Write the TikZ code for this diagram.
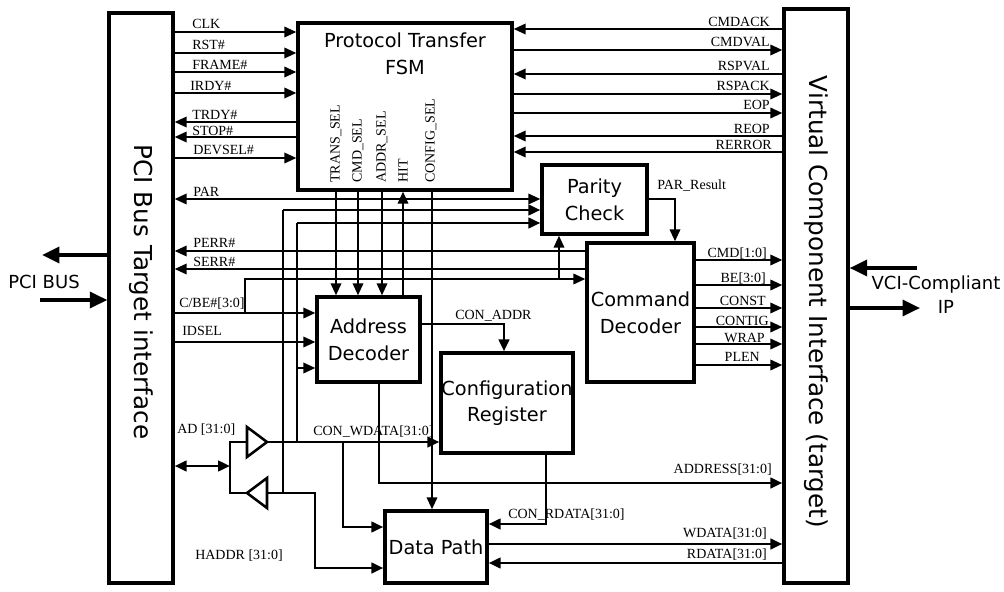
\documentclass[tikz,border=0pt]{standalone}
\usepackage{fontspec}
\setmainfont{Liberation Serif}
\newfontfamily\dejavu{DejaVu Sans}
\usetikzlibrary{arrows.meta,calc}
\begin{document}
\begin{tikzpicture}[x=0.75pt,y=-0.75pt,
 box/.style={draw,line width=2.6pt,inner sep=0pt},
 sig/.style={line width=1.2pt},
 bus/.style={line width=1.9pt},
 heavy/.style={line width=2.6pt,-{Triangle[length=13pt,width=12pt]}},
 big/.style={font=\dejavu\fontsize{14.5pt}{20pt}\selectfont,align=center,inner sep=0pt},
 side/.style={font=\dejavu\fontsize{18.5pt}{22pt}\selectfont,inner sep=0pt},
 io/.style={font=\dejavu\fontsize{13.5pt}{16pt}\selectfont,inner sep=0pt},
 lbl/.style={font=\fontsize{10.5pt}{12pt}\selectfont,inner sep=0pt},
 >={Triangle[length=9pt,width=8pt]}]
\fill[white] (0,0) rectangle (1004,592);
\useasboundingbox (0,0) rectangle (1004,592);

% blocks
\node[box,minimum width=64*0.75pt,minimum height=570*0.75pt] (pci) at (141,298) {};
\node[side,rotate=-90] (pcit) at (141,292) {PCI Bus Target interface};
\node[box,minimum width=64*0.75pt,minimum height=574*0.75pt] (vci) at (816,296) {};
\node[side,rotate=-90] (vcit) at (816,302) {Virtual Component Interface (target)};
\node[box,minimum width=214*0.75pt,minimum height=167*0.75pt] (fsm) at (405,106.5) {};
\node[big] (fsmt) at (405,54) {Protocol Transfer\\FSM};
\node[box,big,minimum width=105*0.75pt,minimum height=69*0.75pt] (parity) at (594.5,199.5) {Parity\\Check};
\node[box,big,minimum width=107*0.75pt,minimum height=139*0.75pt] (cmd) at (640.5,312.5) {Command\\Decoder};
\node[box,big,minimum width=103*0.75pt,minimum height=85*0.75pt] (addr) at (368.5,339.5) {Address\\Decoder};
\node[box,big,minimum width=132*0.75pt,minimum height=100*0.75pt] (cfg) at (507,403) {Configuration\\Register};
\node[box,big,minimum width=102*0.75pt,minimum height=72*0.75pt] (dp) at (436,547) {Data Path};

% outside buses
\coordinate (pcibusout) at (42,255);
\coordinate (pcibusin) at (40,300);
\coordinate (vciin) at (917,268);
\coordinate (vciout) at (920,308);
\draw[heavy] (pci.west |- pcibusout) -- (pcibusout);
\draw[heavy] (pcibusin) -- (pci.west |- pcibusin);
\draw[heavy] (vciin) -- (vci.east |- vciin);
\draw[heavy] (vci.east |- vciout) -- (vciout);
\node[io] (pcibus) at (44,282) {PCI BUS};
\node[io] (vcicomp) at (936,285) {VCI-Compliant};
\node[io] (vciip) at (946,307) {IP};

% PCI side signals to FSM
\draw[sig,->] (pci.east |- 0,32) -- (fsm.west |- 0,32);
\draw[sig,->] (pci.east |- 0,53) -- (fsm.west |- 0,53);
\draw[sig,->] (pci.east |- 0,72) -- (fsm.west |- 0,72);
\draw[sig,->] (pci.east |- 0,93) -- (fsm.west |- 0,93);
\draw[sig,->] (fsm.west |- 0,122) -- (pci.east |- 0,122);
\draw[sig,->] (fsm.west |- 0,137) -- (pci.east |- 0,137);
\draw[sig,->] (pci.east |- 0,158) -- (fsm.west |- 0,158);
\node[lbl,anchor=base west] (lclk) at (192,29) {CLK};
\node[lbl,anchor=base west] (lrst) at (192,50) {RST\#};
\node[lbl,anchor=base west] (lframe) at (192,70) {FRAME\#};
\node[lbl,anchor=base west] (lirdy) at (190,91) {IRDY\#};
\node[lbl,anchor=base west] (ltrdy) at (192,120) {TRDY\#};
\node[lbl,anchor=base west] (lstop) at (192,136) {STOP\#};
\node[lbl,anchor=base west] (ldevsel) at (193,155) {DEVSEL\#};

% VCI side signals to FSM
\draw[sig,->] (vci.west |- 0,29) -- (fsm.east |- 0,29);
\draw[sig,->] (fsm.east |- 0,50) -- (vci.west |- 0,50);
\draw[sig,->] (vci.west |- 0,74) -- (fsm.east |- 0,74);
\draw[sig,->] (fsm.east |- 0,94) -- (vci.west |- 0,94);
\draw[sig,->] (fsm.east |- 0,113) -- (vci.west |- 0,113);
\draw[sig,->] (vci.west |- 0,136) -- (fsm.east |- 0,136);
\draw[sig,->] (vci.west |- 0,152) -- (fsm.east |- 0,152);
\node[lbl,anchor=base east] (lcmdack) at (770,27) {CMDACK};
\node[lbl,anchor=base east] (lcmdval) at (770,47) {CMDVAL};
\node[lbl,anchor=base east] (lrspval) at (770,71) {RSPVAL};
\node[lbl,anchor=base east] (lrspack) at (770,91) {RSPACK};
\node[lbl,anchor=base east] (leop) at (770,110) {EOP};
\node[lbl,anchor=base east] (lreop) at (770,133) {REOP};
\node[lbl,anchor=base east] (lrerror) at (772,150) {RERROR};

% FSM select lines
\node[lbl,rotate=90,anchor=west] (ltsel) at (336,183) {TRANS\_SEL};
\node[lbl,rotate=90,anchor=west] (lcsel) at (358,183) {CMD\_SEL};
\node[lbl,rotate=90,anchor=west] (lasel) at (382,183) {ADDR\_SEL};
\node[lbl,rotate=90,anchor=west] (lhit) at (403,183) {HIT};
\node[lbl,rotate=90,anchor=west] (lcfgsel) at (431,183) {CONFIG\_SEL};
\draw[sig,->] (fsm.south -| 336,0) -- (addr.north -| 336,0);
\draw[sig,->] (fsm.south -| 358,0) -- (addr.north -| 358,0);
\draw[sig,->] (fsm.south -| 382,0) -- (addr.north -| 382,0);
\draw[sig,->] (addr.north -| 403,0) -- (fsm.south -| 403,0);
\draw[sig,->] (fsm.south -| 432,0) -- (dp.north -| 432,0);

% PAR, PERR, SERR, C/BE, IDSEL
\draw[sig,<->] (pci.east |- 0,199) -- (parity.west |- 0,199);
\node[lbl,anchor=base west] (lpar) at (193,196) {PAR};
\draw[sig,->] (cmd.west |- 0,251) -- (pci.east |- 0,251);
\node[lbl,anchor=base west] (lperr) at (193,247) {PERR\#};
\draw[sig,->] (cmd.west |- 0,269) -- (pci.east |- 0,269);
\node[lbl,anchor=base west] (lserr) at (193,266) {SERR\#};
\draw[sig,->] (pci.east |- 0,313) -- (addr.west |- 0,313);
\draw[sig,->] (245,313) -- (245,279) -- (cmd.west |- 0,279);
\draw[sig,->] (559,279) -- (parity.south -| 559,0);
\node[lbl,anchor=base west] (lcbe) at (179,307) {C/BE\#[3:0]};
\draw[sig,->] (pci.east |- 0,342) -- (addr.west |- 0,342);
\node[lbl,anchor=base west] (lidsel) at (182,335) {IDSEL};
\draw[sig,->] (parity.east |- 0,199) -- (675,199) -- (cmd.north -| 675,0);
\node[lbl,anchor=base west] (lparres) at (657,190) {PAR\_Result};

% command decoder outputs
\draw[sig,->] (cmd.east |- 0,260) -- (vci.west |- 0,260);
\draw[sig,->] (cmd.east |- 0,285) -- (vci.west |- 0,285);
\draw[sig,->] (cmd.east |- 0,308) -- (vci.west |- 0,308);
\draw[sig,->] (cmd.east |- 0,327) -- (vci.west |- 0,327);
\draw[sig,->] (cmd.east |- 0,344) -- (vci.west |- 0,344);
\draw[sig,->] (cmd.east |- 0,365) -- (vci.west |- 0,365);
\node[lbl,anchor=base east] (lcmd) at (767,257) {CMD[1:0]};
\node[lbl,anchor=base east] (lbe) at (766,282) {BE[3:0]};
\node[lbl,anchor=base east] (lconst) at (766,305) {CONST};
\node[lbl,anchor=base east] (lcontig) at (769,325) {CONTIG};
\node[lbl,anchor=base east] (lwrap) at (765,342) {WRAP};
\node[lbl,anchor=base east] (lplen) at (760,361) {PLEN};

% AD bus and buffers
\coordinate (b1in) at (247,442);
\coordinate (b1out) at (267,442);
\coordinate (b2in) at (267,493);
\coordinate (b2out) at (247,493);
\coordinate (adj) at (230,466);
\draw[bus,line join=miter] (247,427) -- (b1out) -- (247,457) -- cycle;
\draw[bus,line join=miter] (267,478) -- (b2out) -- (267,508) -- cycle;
\draw[bus] (b1in) -- (230,442) -- (230,493) -- (b2out);
\draw[bus,<->] (pci.east |- adj) -- (adj);
\node[lbl,anchor=base west] (lad) at (177,433) {AD [31:0]};
\node[lbl,anchor=base west] (lhaddr) at (195,559) {HADDR [31:0]};

\coordinate (v283) at (283,210);
\coordinate (v297) at (297,223);
\draw[bus] (v283) -- (283,493);
\draw[bus,->] (v283) -- (parity.west |- v283);
\draw[bus] (v297) -- (297,442);
\draw[bus,->] (v297) -- (parity.west |- v297);
\draw[sig,->] (297,368) -- (addr.west |- 0,368);

\draw[bus,->] (b1out) -- (cfg.west |- b1out);
\node[lbl,anchor=base west] (lconw) at (313,435) {CON\_WDATA[31:0]};
\draw[bus,->] (343,442) -- (343,527) -- (dp.west |- 0,527);
\draw[bus,->] (b2in) -- (315,493) -- (315,568) -- (dp.west |- 0,568);

% address, config, data
\draw[bus,->] (addr.east |- 0,324) -- (504,324) -- (cfg.north -| 504,0);
\node[lbl,anchor=base west] (lconaddr) at (455,319) {CON\_ADDR};
\draw[bus,->] (addr.south -| 379,0) -- (379,483) -- (vci.west |- 0,483);
\node[lbl,anchor=base east] (laddress) at (772,473) {ADDRESS[31:0]};
\draw[bus,->] (cfg.south -| 546,0) -- (546,524) -- (dp.east |- 0,524);
\node[lbl,anchor=base west] (lconr) at (508,518) {CON\_RDATA[31:0]};
\draw[bus,->] (dp.east |- 0,544) -- (vci.west |- 0,544);
\node[lbl,anchor=base east] (lwdata) at (767,537) {WDATA[31:0]};
\draw[bus,->] (vci.west |- 0,563) -- (dp.east |- 0,563);
\node[lbl,anchor=base east] (lrdata) at (767,558) {RDATA[31:0]};
\end{tikzpicture}
\end{document}
